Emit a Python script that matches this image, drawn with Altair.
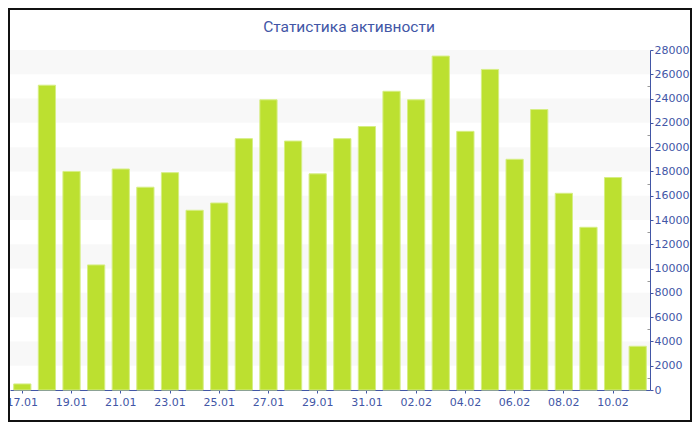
import altair as alt
import pandas as pd

dates = ["17.01", "18.01", "19.01", "20.01", "21.01", "22.01", "23.01", "24.01",
         "25.01", "26.01", "27.01", "28.01", "29.01", "30.01", "31.01", "01.02",
         "02.02", "03.02", "04.02", "05.02", "06.02", "07.02", "08.02", "09.02",
         "10.02", "11.02"]
values = [500, 25100, 18000, 10300, 18200, 16700, 17900, 14800,
          15400, 20700, 23900, 20500, 17800, 20700, 21700, 24600,
          23900, 27500, 21300, 26400, 19000, 23100, 16200, 13400,
          17500, 3600]
band_lo = [2000, 6000, 10000, 14000, 18000, 22000, 26000]
band_hi = [4000, 8000, 12000, 16000, 20000, 24000, 28000]
y_ticks = list(range(0, 28001, 2000))
y_minor = list(range(1000, 28000, 2000))
title_text = ["Статистика активности"]

BLUE = "#4256a6"
FONT = "DejaVu Sans"

df = pd.DataFrame({"date": dates, "value": values})
bands = pd.DataFrame({"lo": band_lo, "hi": band_hi})

yscale = alt.Scale(domain=[0, 28000], nice=False)

band_layer = alt.Chart(bands).mark_rect(color="#f8f8f8").encode(
    y=alt.Y("lo:Q", scale=yscale, title=None,
            axis=alt.Axis(orient="right", offset=-3, domain=False, labels=False,
                          grid=False, values=y_minor, tickSize=3, tickColor="#9a9a9a")),
    y2="hi:Q",
)

bars = alt.Chart(df).mark_bar(color="#bce030", stroke="#d6ee84", strokeWidth=1).encode(
    x=alt.X("date:N", sort=dates, title=None,
            scale=alt.Scale(paddingInner=0.3, paddingOuter=0.15),
            axis=alt.Axis(values=dates[::2], labelAngle=0, domainColor=BLUE,
                          tickColor=BLUE, tickSize=3, labelColor=BLUE,
                          labelFont=FONT, labelFontSize=11, labelPadding=3,
                          grid=False)),
    y=alt.Y("value:Q", scale=yscale, title=None,
            axis=alt.Axis(orient="right", values=y_ticks, format="d",
                          domainColor=BLUE, tickColor=BLUE, tickSize=3,
                          labelColor=BLUE, labelFont=FONT, labelFontSize=11,
                          labelPadding=1, grid=False)),
)

title = alt.Chart(pd.DataFrame({"t": title_text})).mark_text(
    font="Roboto", fontSize=15.5, color=BLUE, align="center", baseline="alphabetic"
).encode(text="t:N", x=alt.value(339), y=alt.value(-18))

frame = alt.Chart(pd.DataFrame({"k": [0]})).mark_rect(
    filled=False, stroke="#111111", strokeWidth=2, clip=False
).encode(
    x=alt.value(-1), x2=alt.value(681), y=alt.value(-41), y2=alt.value(371)
)

chart = alt.layer(band_layer, bars, title, frame).resolve_axis(y="independent").properties(
    width=640,
    height=340,
    autosize=alt.AutoSizeParams(type="none"),
    padding={"left": 2, "top": 42, "right": 42, "bottom": 32},
).configure_view(stroke=None)

chart.save("out.html", embed_options={"renderer": "svg", "actions": False})
